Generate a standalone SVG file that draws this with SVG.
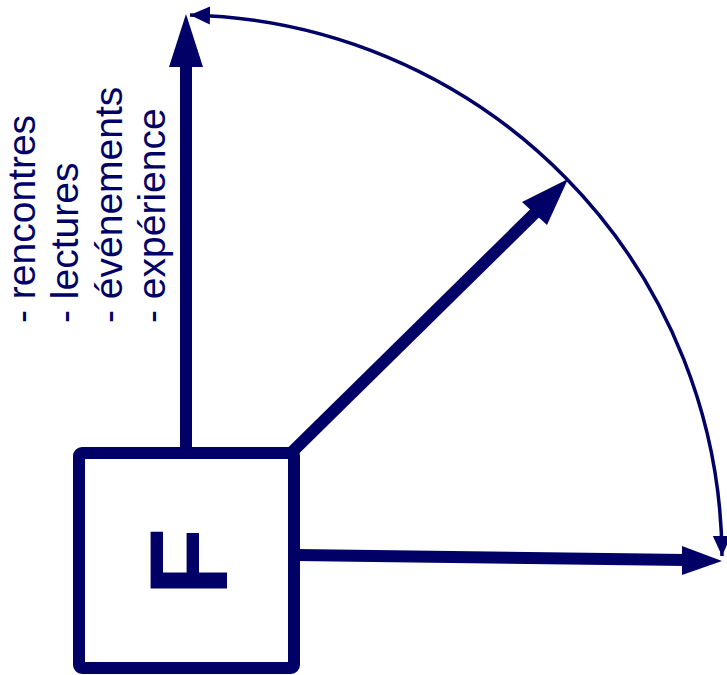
<svg xmlns="http://www.w3.org/2000/svg" width="727" height="675" viewBox="0 0 727 675">
<style>
.c{fill:#000066}
.ln{stroke:#000066;fill:none}
.lbl{font-family:"Liberation Sans",Arial,sans-serif;font-size:39px;fill:#000066}
.big{font-family:"Liberation Sans",Arial,sans-serif;font-size:112px;font-weight:bold;fill:#000066}
</style>
<defs>
<marker id="ah" markerUnits="userSpaceOnUse" markerWidth="22" markerHeight="20" refX="20" refY="10" orient="auto-start-reverse" viewBox="0 0 22 20">
<path d="M0,1 L20,10 L0,19 Z" class="c"/>
</marker>
</defs>
<rect width="727" height="675" fill="#ffffff"/>
<g id="connectors">
<path id="arc" class="ln" stroke-width="3.5" d="M190,15 A545,545 0 0 1 722,556" marker-start="url(#ah)" marker-end="url(#ah)"/>
<g id="arrow-up">
<line class="ln" stroke-width="12" x1="186" y1="450" x2="186" y2="62"/>
<polygon class="c" points="186,14 169,67 203,67"/>
</g>
<g id="arrow-diag">
<line class="ln" stroke-width="12" x1="290" y1="454" x2="537" y2="211"/>
<polygon class="c" points="568,179 522,202 547,225"/>
</g>
<g id="arrow-right">
<line class="ln" stroke-width="12" x1="296" y1="555" x2="686" y2="560"/>
<polygon class="c" points="722,561 682,546 682,575"/>
</g>
</g>
<g id="node-F">
<rect x="79" y="453" width="215" height="215" rx="3" fill="#ffffff" stroke="#000066" stroke-width="12"/>
<text class="big" transform="translate(227,596) rotate(-90)">F</text>
</g>
<g id="labels">
<text class="lbl" transform="translate(35,323) rotate(-90)">- rencontres</text>
<text class="lbl" transform="translate(78,323) rotate(-90)">- lectures</text>
<text class="lbl" transform="translate(122,323) rotate(-90)">- événements</text>
<text class="lbl" transform="translate(165,323) rotate(-90)">- expérience</text>
</g>
</svg>
